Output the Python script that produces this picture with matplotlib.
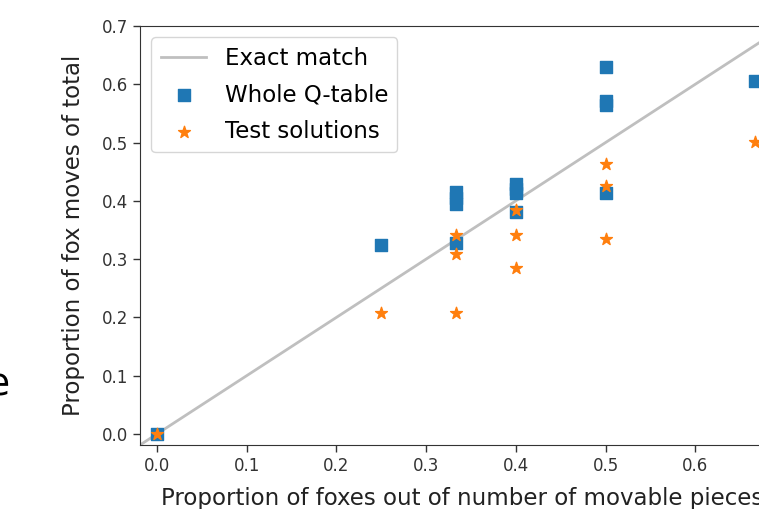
import matplotlib
matplotlib.use("Agg")
import matplotlib.pyplot as plt
import numpy as np

# Whole Q-table points
q_x = [0.0, 0.25, 0.333, 0.333, 0.333, 0.333, 0.4, 0.4, 0.4, 0.4, 0.5, 0.5, 0.5, 0.5, 0.667]
q_y = [0.0, 0.324, 0.328, 0.394, 0.405, 0.416, 0.380, 0.413, 0.421, 0.429, 0.413, 0.565, 0.571, 0.629, 0.606]

# Test solutions points
t_x = [0.0, 0.25, 0.333, 0.333, 0.333, 0.4, 0.4, 0.4, 0.5, 0.5, 0.5, 0.667]
t_y = [0.0, 0.208, 0.208, 0.308, 0.341, 0.285, 0.341, 0.384, 0.334, 0.426, 0.463, 0.501]

x_ticks = [0.0, 0.1, 0.2, 0.3, 0.4, 0.5, 0.6]
y_ticks = [0.0, 0.1, 0.2, 0.3, 0.4, 0.5, 0.6, 0.7]

W, H = 759, 509
fig = plt.figure(figsize=(W / 100, H / 100), dpi=100)

x_lo, x_hi = -0.019, 0.70
y_lo, y_hi = -0.019, 0.70
px_per_x = 897.0
left_px, top_px, bottom_px = 140, 26, 445
ax_w = (x_hi - x_lo) * px_per_x
ax = fig.add_axes([left_px / W, (H - bottom_px) / H, ax_w / W, (bottom_px - top_px) / H])

line_x = np.array([x_lo, x_hi])
ax.plot(line_x, line_x, color="grey", alpha=0.5, lw=2, label="Exact match", zorder=1)
ax.scatter(q_x, q_y, marker="s", s=72, color="#1f77b4", label="Whole Q-table", zorder=2)
ax.scatter(t_x, t_y, marker="*", s=80, color="#ff7f0e", label="Test solutions", zorder=3)

ax.set_xlim(x_lo, x_hi)
ax.set_ylim(y_lo, y_hi)
ax.set_xticks(x_ticks)
ax.set_yticks(y_ticks)
ax.tick_params(labelsize=12, length=5, width=1, colors="#333333", labelcolor="#333333")
for sp in ax.spines.values():
    sp.set_color("#333333")
ax.set_xlabel("Proportion of foxes out of number of movable pieces", fontsize=16.5, color="#222222", labelpad=9)
ax.set_ylabel("Proportion of fox moves of total", fontsize=16.5, color="#222222", labelpad=12)
ax.legend(loc="upper left", fontsize=16.5, bbox_to_anchor=(0.0, 1.0), borderaxespad=0.5,
          labelspacing=0.6)

fig.text(10 / W, 1 - 386 / H, "e", fontsize=27, ha="right", va="center", color="black")

fig.savefig("out.png", dpi=100)
